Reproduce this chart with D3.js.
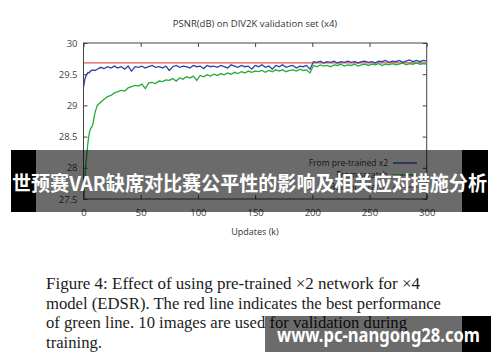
<!DOCTYPE html>
<html>
<head>
<meta charset="utf-8">
<script src="https://cdn.jsdelivr.net/npm/d3@7"></script>
<style>
  html, body { margin: 0; padding: 0; background: #fff; }
  svg { display: block; }
</style>
</head>
<body>
<svg id="chart"></svg>
<script>
// données (updates en milliers)
const updates = [0, 1, 2, 3, 4, 5, 6, 8, 10, 12,
  15, 18, 21, 24, 27, 30, 33, 36, 39, 42, 45, 48, 51, 54, 57, 60, 63, 66, 69, 72,
  75, 78, 81, 84, 87, 90, 93, 96, 99, 102, 105, 108, 111, 114, 117, 120, 123, 126, 129, 132,
  135, 138, 141, 144, 147, 150, 153, 156, 159, 162, 165, 168, 171, 174, 177, 180, 183, 186, 189, 192,
  195, 198, 201, 204, 207, 210, 213, 216, 219, 222, 225, 228, 231, 234, 237, 240, 243, 246, 249, 252,
  255, 258, 261, 264, 267, 270, 273, 276, 279, 282, 285, 288, 291, 294, 297, 300];

const pretrained = [29.29, 29.40, 29.47, 29.50, 29.53, 29.52, 29.55, 29.57, 29.56, 29.58,
  29.61, 29.59, 29.62, 29.60, 29.63, 29.60, 29.62, 29.58, 29.63, 29.55, 29.62, 29.61, 29.63, 29.60, 29.62, 29.64, 29.61, 29.62, 29.60, 29.63,
  29.56, 29.62, 29.64, 29.61, 29.63, 29.62, 29.60, 29.64, 29.62, 29.63, 29.59, 29.64, 29.62, 29.63, 29.61, 29.64, 29.62, 29.60, 29.65, 29.63,
  29.61, 29.64, 29.62, 29.63, 29.58, 29.64, 29.62, 29.65, 29.61, 29.63, 29.58, 29.64, 29.62, 29.65, 29.61, 29.63, 29.64, 29.60, 29.63, 29.62,
  29.64, 29.58, 29.70, 29.69, 29.71, 29.68, 29.70, 29.69, 29.71, 29.68, 29.70, 29.69, 29.71, 29.69, 29.70, 29.68, 29.70, 29.71, 29.69, 29.70,
  29.68, 29.71, 29.70, 29.72, 29.69, 29.71, 29.70, 29.72, 29.69, 29.71, 29.73, 29.70, 29.72, 29.70, 29.72, 29.71];

const scratch = [27.40, 27.75, 28.05, 28.25, 28.42, 28.55, 28.62, 28.68, 28.88, 29.00,
  29.05, 29.10, 29.14, 29.16, 29.20, 29.22, 29.24, 29.23, 29.28, 29.30, 29.32, 29.31, 29.34, 29.27, 29.36, 29.37, 29.35, 29.39, 29.38, 29.41,
  29.40, 29.43, 29.39, 29.44, 29.42, 29.46, 29.44, 29.47, 29.40, 29.48, 29.46, 29.49, 29.47, 29.50, 29.48, 29.51, 29.49, 29.52, 29.50, 29.53,
  29.51, 29.54, 29.52, 29.55, 29.53, 29.55, 29.54, 29.56, 29.53, 29.56, 29.54, 29.57, 29.55, 29.57, 29.54, 29.56, 29.57, 29.55, 29.58, 29.56,
  29.57, 29.52, 29.64, 29.62, 29.65, 29.63, 29.64, 29.62, 29.65, 29.64, 29.66, 29.63, 29.65, 29.64, 29.66, 29.63, 29.65, 29.66, 29.64, 29.66,
  29.65, 29.67, 29.64, 29.66, 29.65, 29.67, 29.65, 29.66, 29.68, 29.65, 29.67, 29.66, 29.68, 29.66, 29.67, 29.66];

const bestScratch = 29.68;

const xTicks = [0, 50, 100, 150, 200, 250, 300];
const yTicks = [27.5, 28, 28.5, 29, 29.5, 30];

const legendLabels = ["From pre-trained x2", "From scratch", "Best of scratch"];
const captionLines = [
  "Figure 4: Effect of using pre-trained \u00d72 network for \u00d74",
  "model (EDSR). The red line indicates the best performance",
  "of green line. 10 images are used for validation during",
  "training."
];
const bannerText = "世预赛VAR缺席对比赛公平性的影响及相关应对措施分析";
const siteText = "www.pc-nangong28.com";

const W = 500, H = 362;
const plot = { left: 83.5, right: 426.7, top: 43, bottom: 199 };
const colors = { blue: "#2a45a6", green: "#24ad3c", red: "#e2574a" };

const svg = d3.select("#chart").attr("width", W).attr("height", H);
svg.append("rect").attr("width", W).attr("height", H).attr("fill", "#fff");

const x = d3.scaleLinear().domain([0, 300]).range([plot.left, plot.right]);
const y = d3.scaleLinear().domain([27.5, 30]).range([plot.bottom, plot.top]);

svg.append("clipPath").attr("id", "clip")
  .append("rect")
  .attr("x", plot.left).attr("y", plot.top)
  .attr("width", plot.right - plot.left).attr("height", plot.bottom - plot.top);

// axes avec graduations vers l'intérieur
const tickFont = "'Open Sans', 'DejaVu Sans', sans-serif";

const gx = svg.append("g")
  .attr("transform", `translate(0,${plot.bottom})`)
  .call(d3.axisBottom(x).tickValues(xTicks).tickSizeInner(-4).tickSizeOuter(0).tickPadding(10));
const gy = svg.append("g")
  .attr("transform", `translate(${plot.left},0)`)
  .call(d3.axisLeft(y).tickValues(yTicks).tickFormat(d3.format("~g")).tickSizeInner(-4).tickSizeOuter(0).tickPadding(6));
const gxTop = svg.append("g")
  .attr("transform", `translate(0,${plot.top})`)
  .call(d3.axisTop(x).tickValues(xTicks).tickSizeInner(-4).tickSizeOuter(0).tickFormat(""));
const gyRight = svg.append("g")
  .attr("transform", `translate(${plot.right},0)`)
  .call(d3.axisRight(y).tickValues(yTicks).tickSizeInner(-4).tickSizeOuter(0).tickFormat(""));

[gx, gy, gxTop, gyRight].forEach(g => {
  g.select(".domain").remove();
  g.selectAll(".tick line").attr("stroke", "#444");
  g.selectAll("text").attr("font-family", tickFont).attr("font-size", 9.5).attr("fill", "#444");
});

svg.append("rect")
  .attr("x", plot.left).attr("y", plot.top)
  .attr("width", plot.right - plot.left).attr("height", plot.bottom - plot.top)
  .attr("fill", "none").attr("stroke", "#444").attr("stroke-width", 1);

// courbes
const lines = svg.append("g").attr("clip-path", "url(#clip)");

lines.append("line")
  .attr("x1", x(0)).attr("x2", x(300))
  .attr("y1", y(bestScratch)).attr("y2", y(bestScratch))
  .attr("stroke", colors.red).attr("stroke-width", 1.3);

const line = d3.line().x((d, i) => x(updates[i])).y(d => y(d));

lines.append("path").datum(scratch)
  .attr("d", line).attr("fill", "none")
  .attr("stroke", colors.green).attr("stroke-width", 1.3);

lines.append("path").datum(pretrained)
  .attr("d", line).attr("fill", "none")
  .attr("stroke", colors.blue).attr("stroke-width", 1.3);

// titre et label
svg.append("text")
  .attr("x", 255).attr("y", 27).attr("text-anchor", "middle")
  .attr("font-family", tickFont).attr("font-size", 9.5).attr("fill", "#333")
  .text("PSNR(dB) on DIV2K validation set (x4)");

svg.append("text")
  .attr("x", 255).attr("y", 235).attr("text-anchor", "middle")
  .attr("font-family", tickFont).attr("font-size", 9).attr("fill", "#333")
  .text("Updates (k)");

// légende
const legendColors = [colors.blue, colors.green, colors.red];
const legend = svg.append("g");
legendLabels.forEach((lab, i) => {
  const ly = 163 + i * 12;
  legend.append("text")
    .attr("x", 388).attr("y", ly + 3).attr("text-anchor", "end")
    .attr("font-family", tickFont).attr("font-size", 8.5).attr("fill", "#333")
    .text(lab);
  legend.append("line")
    .attr("x1", 393).attr("x2", 417).attr("y1", ly).attr("y2", ly)
    .attr("stroke", legendColors[i]).attr("stroke-width", 1.3);
});

// légende de la figure
captionLines.forEach((t, i) => {
  const widths = [374, 395, 361, 56];
  svg.append("text")
    .attr("x", 46).attr("y", 289 + i * 19.6)
    .attr("font-family", "'Liberation Serif', 'Times New Roman', serif")
    .attr("font-size", 17).attr("fill", "#1c1c1c")
    .attr("textLength", widths[i]).attr("lengthAdjust", "spacingAndGlyphs")
    .text(t);
});

// bandeau
svg.append("rect").attr("x", 11).attr("y", 150).attr("width", 25).attr("height", 62).attr("fill", "#000");
svg.append("rect").attr("x", 462).attr("y", 150).attr("width", 26).attr("height", 62).attr("fill", "#000");
svg.append("rect").attr("x", 36).attr("y", 150).attr("width", 426).attr("height", 62)
  .attr("fill", "#000").attr("fill-opacity", 0.58);
svg.append("text")
  .attr("x", 12).attr("y", 191)
  .attr("font-family", "'Noto Sans CJK SC', sans-serif").attr("font-weight", "bold")
  .attr("font-size", 20).attr("fill", "#fff")
  .attr("textLength", 475).attr("lengthAdjust", "spacingAndGlyphs")
  .text(bannerText);

// filigrane en bas
svg.append("rect").attr("x", 265).attr("y", 316).attr("width", 197).attr("height", 36)
  .attr("fill", "#000").attr("fill-opacity", 0.58);
svg.append("rect").attr("x", 462).attr("y", 316).attr("width", 29).attr("height", 36).attr("fill", "#000");
svg.append("text")
  .attr("x", 277).attr("y", 342)
  .attr("font-family", "'Noto Sans', 'Open Sans', sans-serif").attr("font-weight", "bold")
  .attr("font-size", 19).attr("fill", "#fff")
  .attr("textLength", 203).attr("lengthAdjust", "spacingAndGlyphs")
  .text(siteText);
</script>
</body>
</html>
